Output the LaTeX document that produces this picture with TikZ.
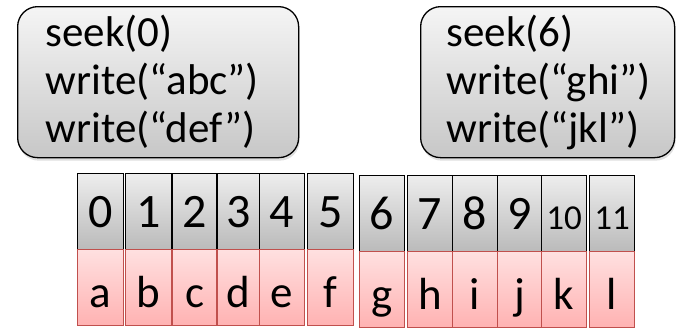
\documentclass[tikz,border=0pt]{standalone}
\usepackage{fontspec}
\setmainfont{Carlito}
\usetikzlibrary{shadows}

\definecolor{cellred}{RGB}{192,80,77}
\definecolor{pinktop}{RGB}{255,224,224}
\definecolor{pinkbot}{RGB}{255,178,178}

\tikzset{
	opsbox/.style={draw=black, line width=1.3pt, rounded corners=20pt,
		top color=black!4, bottom color=black!22,
		drop shadow={opacity=0.25, shadow xshift=1pt, shadow yshift=-3pt},
		anchor=north west, align=left, minimum height=151pt,
		font=\fontsize{43}{48}\selectfont},
	idxcell/.style={draw=black, line width=1.3pt, top color=black!7, bottom color=black!27,
		anchor=north west, inner sep=0pt, minimum height=76pt,
		text height=36pt, text depth=4pt},
	bytecell/.style={draw=cellred, line width=1.3pt, top color=pinktop, bottom color=pinkbot,
		anchor=north west, inner sep=0pt, minimum height=76pt,
		text height=40pt, text depth=0pt, font=\fontsize{45}{48}\selectfont}
}

\begin{document}
\begin{tikzpicture}[x=1pt, y=-1pt]
		%%%%% START %%%%%
		\useasboundingbox (0, 0) rectangle (677, 327);
		
		% the two writers
		\node[opsbox, inner xsep=28pt, text width=225pt] (opsa) at (17, 6)
			{seek(0)\\write(“abc”)\\write(“def”)};
		\node[opsbox, inner xsep=26pt, text width=202pt] (opsb) at (420, 6)
			{seek(6)\\write(“ghi”)\\write(“jkl”)};
		
		% first half of the file
		\foreach \i/\l/\r/\ch in {0/77/123/a, 1/125/171/b, 2/172/216/c, 3/217/259/d, 4/259/304/e, 5/307/353/f}{
			\node[idxcell, minimum width=\r-\l, font=\fontsize{48}{48}\selectfont] (n\i) at (\l, 173) {\i};
			\node[bytecell, minimum width=\r-\l] (c\i) at (\l, 249) {\ch};
		}
		
		% second half of the file
		\foreach \i/\l/\r/\ch/\sz in {6/359/404/g/48, 7/407/452/h/48, 8/452/497/i/48, 9/497/541/j/48, 10/541/586/k/35, 11/589/634/l/35}{
			\node[idxcell, minimum width=\r-\l, font=\fontsize{\sz}{48}\selectfont] (n\i) at (\l, 175) {\i};
			\node[bytecell, minimum width=\r-\l] (c\i) at (\l, 251) {\ch};
		}
		
		%%%%% END %%%%%
\end{tikzpicture}
\end{document}
